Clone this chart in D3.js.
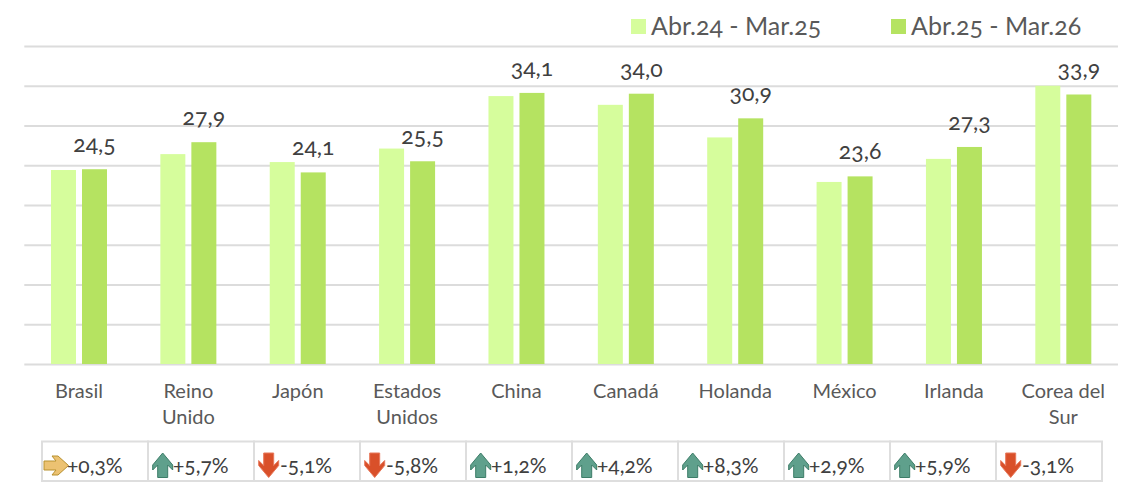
<!DOCTYPE html>
<html><head><meta charset="utf-8">
<script src="https://cdn.jsdelivr.net/npm/d3@7"></script>
<style>
html,body{margin:0;padding:0;background:#fff}
svg{display:block}
text{font-family:"Lato","Open Sans",sans-serif;font-feature-settings:"onum" 1,"lnum" 0;font-variant-numeric:oldstyle-nums}
</style></head><body>
<div id="chart"></div>
<script>
const categories=["Brasil","Reino Unido","Japón","Estados Unidos","China","Canadá","Holanda","México","Irlanda","Corea del Sur"];
const seriesNames=["Abr.24 - Mar.25","Abr.25 - Mar.26"];
const prevValues=[24.4,26.4,25.4,27.1,33.7,32.6,28.5,22.9,25.8,35.0];
const currValues=[24.5,27.9,24.1,25.5,34.1,34.0,30.9,23.6,27.3,33.9];
const changes=["+0,3%","+5,7%","-5,1%","-5,8%","+1,2%","+4,2%","+8,3%","+2,9%","+5,9%","-3,1%"];
const directions=["side","up","down","down","up","up","up","up","up","down"];
const yTicks=[0,5,10,15,20,25,30,35,40];

const W=1125,H=482;
const svg=d3.select("#chart").append("svg").attr("width",W).attr("height",H);
const x=d3.scaleBand().domain(categories).range([24.3,1118]);
const y=d3.scaleLinear().domain([0,40]).range([364,46]);
const inner=d3.scaleBand().domain([0,1]).range([-28,28]).paddingInner(0.194);
const colors=["#d6fd9c","#b5e361"];

const gy=svg.append("g").attr("transform","translate(24.3,0)")
  .call(d3.axisLeft(y).tickValues(yTicks).tickSize(-1093.7).tickFormat(""));
gy.select(".domain").remove();
gy.selectAll("line").attr("stroke","#dcdcdc").attr("stroke-width",2);

const groups=svg.selectAll(".cat").data(categories).join("g")
  .attr("transform",d=>`translate(${x(d)+x.bandwidth()/2},0)`);
[prevValues,currValues].forEach((vals,s)=>{
  groups.append("rect")
    .attr("x",inner(s)).attr("width",inner.bandwidth())
    .attr("y",(d,i)=>y(vals[i])).attr("height",(d,i)=>y(0)-y(vals[i]))
    .attr("fill",colors[s]);
});
groups.append("text").attr("x",inner(1)+inner.bandwidth()/2)
  .attr("y",(d,i)=>y(currValues[i])-17).attr("text-anchor","middle")
  .attr("font-size",23).attr("fill","#404040").text((d,i)=>currValues[i].toFixed(1).replace(".",","));

const gx=svg.append("g").attr("transform","translate(0,364)")
  .call(d3.axisBottom(x).tickSize(0).tickPadding(0));
gx.select(".domain").remove();
gx.selectAll("text").attr("font-size",20).attr("fill","#595959").attr("y",0).attr("dy",0).each(function(d){
  const t=d3.select(this).text("");
  const words=d.split(" ");
  const lines=words.length===3?[words.slice(0,2).join(" "),words[2]]:words;
  lines.forEach((l,i)=>t.append("tspan").attr("x",0).attr("y",33.5+i*26).text(l));
});

const lx=[631,891];
const lg=svg.selectAll(".lg").data(seriesNames).join("g").attr("transform",(d,i)=>`translate(${lx[i]},19)`);
lg.append("rect").attr("width",15).attr("height",15).attr("fill",(d,i)=>colors[i]);
lg.append("text").attr("x",20).attr("y",16).attr("font-size",25).attr("fill","#595959").text(d=>d);

const cellW=106,cellH=39.5,tx=42,ty=441.5;
const cell=svg.selectAll(".cell").data(changes).join("g").attr("transform",(d,i)=>`translate(${tx+i*cellW},${ty})`);
cell.append("rect").attr("width",cellW).attr("height",cellH).attr("fill","#fff").attr("stroke","#dedede").attr("stroke-width",2);
const icons={
 up:{d:"M10,0 L20,12 L20,17 L15,12 L15,24.5 L5,24.5 L5,12 L0,17 L0,12 Z",fill:"#5fa08c",stroke:"#3d7d68"},
 down:{d:"M5,0 L15,0 L15,12.5 L20,7.5 L20,12.5 L10,24.5 L0,12.5 L0,7.5 L5,12.5 Z",fill:"#d9502a",stroke:"#e8785a"},
 side:{d:"M0,5 L12,5 L8,0 L14,0 L24.5,9.5 L14,19 L8,19 L12,14 L0,14 Z",fill:"#ecc272",stroke:"#b8912f"}
};
cell.append("path").attr("d",(d,i)=>icons[directions[i]].d)
  .attr("transform",(d,i)=>directions[i]==="side"?"translate(2,14.5)":"translate(4.7,11.5)")
  .attr("fill",(d,i)=>icons[directions[i]].fill).attr("stroke",(d,i)=>icons[directions[i]].stroke).attr("stroke-width",1);
cell.append("text").attr("x",(d,i)=>directions[i]==="down"?26:25).attr("y",31).attr("font-size",21).attr("fill","#404040").text(d=>d);
</script>
</body></html>
